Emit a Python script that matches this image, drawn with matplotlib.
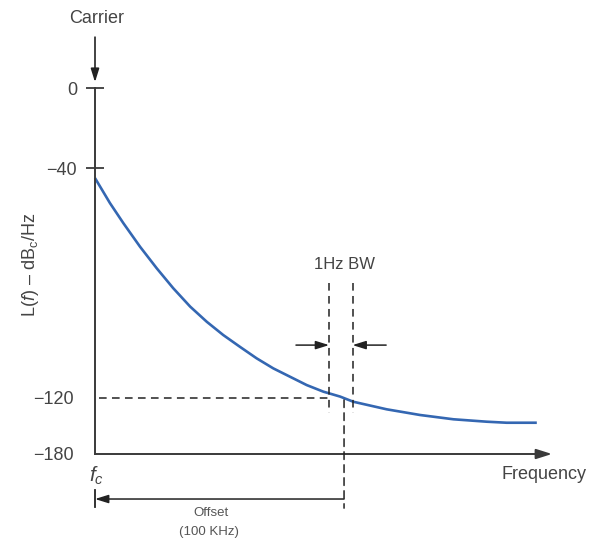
import numpy as np
import matplotlib
matplotlib.use("Agg")
import matplotlib.pyplot as plt

plt.rcParams["font.family"] = ["Liberation Sans", "DejaVu Sans"]
plt.rcParams["mathtext.fontset"] = "custom"
plt.rcParams["mathtext.rm"] = "Liberation Sans"
plt.rcParams["mathtext.it"] = "Liberation Sans:italic"

# phase-noise curve (offset from carrier in kHz, level in dBc/Hz)
offset_khz = [0, 6.0, 11.4, 18.1, 24.8, 31.4, 38.2, 44.9, 51.5, 58.2, 64.9, 71.6,
              78.3, 85.0, 91.7, 98.4, 103.7, 117.1, 130.5, 143.9, 157.3, 165.3, 177.4]
noise_dbc = [-43.5, -52.2, -59.2, -67.4, -74.9, -81.8, -88.2, -93.5, -98.1, -102.2,
             -106.2, -109.7, -112.6, -115.5, -117.8, -119.5, -124.0, -132.1, -138.2,
             -142.8, -145.4, -146.5, -146.5]

# y axis of the sketch is not linear: tick levels and where they sit
level_db = [-180, -120, -40, 0]
level_pos = [0, 56, 286, 366]
level_labels = ["\u2212180", "\u2212120", "\u221240", "0"]

ref_level = -120
offset_mark = 100
bw_edges = [94.0, 103.4]
bw_span = [-80, -136]
x_max = 183.5

AXIS = "#3a3a3a"
TEXT = "#444444"
BLUE = "#3467b2"
DASH = "#222222"


def _pw(v, xp, fp):
    v = np.asarray(v, dtype=float)
    xp = np.asarray(xp, dtype=float)
    fp = np.asarray(fp, dtype=float)
    out = np.interp(v, xp, fp)
    lo_slope = (fp[1] - fp[0]) / (xp[1] - xp[0])
    hi_slope = (fp[-1] - fp[-2]) / (xp[-1] - xp[-2])
    out = np.where(v < xp[0], fp[0] + (v - xp[0]) * lo_slope, out)
    out = np.where(v > xp[-1], fp[-1] + (v - xp[-1]) * hi_slope, out)
    return out


def fwd(v):
    return _pw(v, level_db, level_pos)


def inv(p):
    return _pw(p, level_pos, level_db)


W, H = 589, 539
fig = plt.figure(figsize=(W / 100, H / 100), dpi=100)
ax = fig.add_axes([95 / W, 85 / H, 457 / W, 366 / H])
ax.set_yscale("function", functions=(fwd, inv))
ax.set_xlim(0, x_max)
ax.set_ylim(-180, 0)
ax.patch.set_visible(False)

for s in ["top", "right", "bottom"]:
    ax.spines[s].set_visible(False)
ax.spines["left"].set_color(AXIS)
ax.spines["left"].set_linewidth(1.4)

ax.set_xticks([])
ax.set_yticks([0, -40], labels=["0", "\u221240"])
ax.set_yticks([-120, -180], labels=["\u2212120", "\u2212180"], minor=True)
ax.tick_params(axis="y", which="major", direction="inout", length=13, width=1.3,
               color=AXIS, pad=6.5, labelsize=13, labelcolor=TEXT)
ax.tick_params(axis="y", which="minor", length=0, pad=15, labelsize=13, labelcolor=TEXT)

# frequency axis with arrow
ax.annotate("", xy=(1.0, 0), xytext=(0, 0), xycoords="axes fraction",
            arrowprops=dict(arrowstyle="-|>,head_length=0.95,head_width=0.3",
                            color=AXIS, lw=1.4, shrinkA=0, shrinkB=0, mutation_scale=10),
            annotation_clip=False)

# curve
ax.plot(offset_khz, noise_dbc, color=BLUE, lw=1.9, solid_capstyle="butt", clip_on=False)

# dashed guides
dash_kw = dict(color=DASH, lw=1.1, linestyle=(0, (5, 3.5)))
ax.plot([1.5, bw_edges[0]], [ref_level, ref_level], **dash_kw)
for xb in bw_edges:
    ax.plot([xb, xb], bw_span, **dash_kw)
xtr = ax.get_xaxis_transform()
ax.annotate("", xy=(offset_mark, -0.148), xycoords=xtr,
            xytext=(offset_mark, -122), textcoords="data",
            arrowprops=dict(arrowstyle="-", color=DASH, lw=1.1, linestyle=(0, (5, 3.5)),
                            shrinkA=0, shrinkB=0),
            annotation_clip=False)

# 1 Hz BW arrows
arrow_y = -101.6
ax.annotate("", xy=(bw_edges[0], arrow_y), xytext=(80.7, arrow_y),
            arrowprops=dict(arrowstyle="-|>,head_length=0.8,head_width=0.25", color=DASH,
                            lw=1.1, shrinkA=0, shrinkB=0, mutation_scale=10))
ax.annotate("", xy=(bw_edges[1], arrow_y), xytext=(116.9, arrow_y),
            arrowprops=dict(arrowstyle="-|>,head_length=0.8,head_width=0.25", color=DASH,
                            lw=1.1, shrinkA=0, shrinkB=0, mutation_scale=10))
ax.text(offset_mark, -73.7, "1Hz BW", ha="center", va="center", fontsize=12, color=TEXT)

# offset arrow under the axis
ax.annotate("", xy=(0, -0.123), xytext=(offset_mark, -0.123), xycoords=xtr,
            arrowprops=dict(arrowstyle="-|>,head_length=0.8,head_width=0.25", color=DASH,
                            lw=1.1, shrinkA=0, shrinkB=0, mutation_scale=10),
            annotation_clip=False)
ax.plot([0, 0], [-0.098, -0.145], transform=xtr, color=DASH, lw=1.3, clip_on=False)
ax.text(46.6, -0.161, "Offset", transform=xtr, ha="center", va="center",
        fontsize=9.5, color="#555555")
ax.text(45.8, -0.213, "(100 KHz)", transform=xtr, ha="center", va="center",
        fontsize=9.5, color="#555555")

# carrier arrow and labels
ax.annotate("", xy=(0, 1.016), xytext=(0, 1.139), xycoords="axes fraction",
            arrowprops=dict(arrowstyle="-|>,head_length=0.8,head_width=0.25", color=DASH,
                            lw=1.2, shrinkA=0, shrinkB=0, mutation_scale=10),
            annotation_clip=False)
ax.text(0.8, 1.191, "Carrier", transform=xtr, ha="center", va="center",
        fontsize=13, color=TEXT)
ax.text(0.4, -0.06, "$f_c$", transform=xtr, ha="center", va="center",
        fontsize=15, color=TEXT)
ax.text(180.3, -0.057, "Frequency", transform=xtr, ha="center", va="center",
        fontsize=13, color=TEXT)
ax.text(-0.142, 0.516, "L($f$) \u2013 dB$_\\mathrm{c}$/Hz", transform=ax.transAxes,
        rotation=90, ha="center", va="center", fontsize=13, color=TEXT)

fig.savefig("out.png", dpi=100)
